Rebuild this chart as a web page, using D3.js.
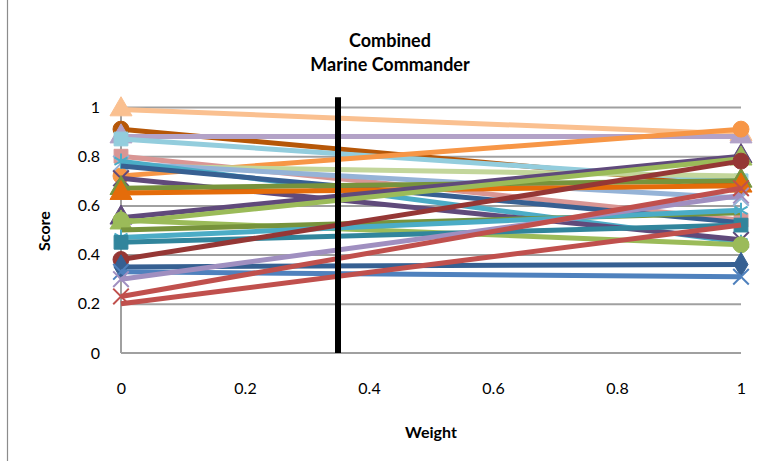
<!DOCTYPE html>
<html>
<head>
<meta charset="utf-8">
<script src="https://cdn.jsdelivr.net/npm/d3@7"></script>
<style>
  html, body { margin: 0; padding: 0; background: #fff; }
  svg { display: block; font-family: Lato, "Open Sans", sans-serif; }
</style>
</head>
<body>
<svg id="chart" width="759" height="461"></svg>
<script>
// Weight axis: each option is scored at weight 0 and weight 1
const weights = [0, 1];
const startScores = [0.99, 0.91, 0.88, 0.87, 0.80, 0.72, 0.76, 0.77, 0.78, 0.76, 0.71, 0.67, 0.65,
                     0.55, 0.53, 0.54, 0.50, 0.47, 0.45, 0.38, 0.35, 0.33, 0.30, 0.23, 0.20];
const endScores   = [0.89, 0.68, 0.88, 0.70, 0.54, 0.91, 0.72, 0.63, 0.45, 0.53, 0.46, 0.70, 0.68,
                     0.80, 0.79, 0.44, 0.57, 0.58, 0.52, 0.78, 0.36, 0.31, 0.64, 0.67, 0.52];
const seriesColors = ["#FAC090", "#B65708", "#B3A2C7", "#93CDDD", "#D99694", "#F79646", "#C3D69B",
                      "#95B3D7", "#4BACC6", "#376092", "#604A7B", "#77933C", "#E46C0A",
                      "#604A7B", "#9BBB59", "#9BBB59", "#77933C", "#4BACC6", "#31859C", "#953735",
                      "#366092", "#4F81BD", "#A08FC0", "#C0504D", "#C0504D"];
const seriesMarkers = ["triangle", "circle", "triangle", "square", "square", "circle", "none",
                       "times", "asterisk", "none", "times", "triangle", "triangle",
                       "triangle", "triangle", "circle", "none", "asterisk", "square", "circle",
                       "diamond", "times", "times", "times", "none"];
const xTicks = [0, 0.2, 0.4, 0.6, 0.8, 1];
const yTicks = [0, 0.2, 0.4, 0.6, 0.8, 1];
const cutoffWeight = 0.35;
const titleLines = ["Combined", "Marine Commander"];

const svg = d3.select("#chart");
const x = d3.scaleLinear().domain([0, 1]).range([121, 741]);
const y = d3.scaleLinear().domain([0, 1]).range([353, 107]);

// outer chart frame (left edge)
svg.append("line").attr("x1", 7.5).attr("x2", 7.5).attr("y1", 0).attr("y2", 461)
  .attr("stroke", "#8c8c8c").attr("stroke-width", 1.2);

// horizontal gridlines
svg.append("g").attr("transform", `translate(${x(0)},0)`)
  .call(d3.axisLeft(y).tickValues(yTicks.slice(1)).tickSize(-(x(1) - x(0))).tickFormat(""))
  .call(g => g.select(".domain").remove())
  .call(g => g.selectAll("line").attr("stroke", "#a0a0a0").attr("stroke-width", 2));

// axis lines
svg.append("line").attr("x1", x(0)).attr("x2", x(1)).attr("y1", y(0)).attr("y2", y(0))
  .attr("stroke", "#a0a0a0").attr("stroke-width", 2);
svg.append("line").attr("x1", x(0)).attr("x2", x(0)).attr("y1", y(0)).attr("y2", y(1))
  .attr("stroke", "#a0a0a0").attr("stroke-width", 2);

// tick labels
const yAxis = svg.append("g").attr("transform", `translate(${x(0) - 18},0)`)
  .call(d3.axisLeft(y).tickValues(yTicks).tickSize(0).tickFormat(d3.format("")));
yAxis.select(".domain").remove();
yAxis.selectAll("text").attr("font-size", 16).attr("fill", "#000")
  .attr("font-family", "Lato, 'Open Sans', sans-serif").attr("dy", "0.32em");

const xAxis = svg.append("g").attr("transform", `translate(0,${y(0) + 27})`)
  .call(d3.axisBottom(x).tickValues(xTicks).tickSize(0).tickFormat(d3.format("")));
xAxis.select(".domain").remove();
xAxis.selectAll("text").attr("font-size", 16).attr("fill", "#000")
  .attr("font-family", "Lato, 'Open Sans', sans-serif");

// series lines
const series = startScores.map((s, i) => ({
  values: [s, endScores[i]],
  color: seriesColors[i],
  marker: seriesMarkers[i]
}));

const line = d3.line().x((d, j) => x(weights[j])).y(d => y(d));
const symbolTypes = {
  triangle: d3.symbolTriangle, circle: d3.symbolCircle, square: d3.symbolSquare,
  diamond: d3.symbolDiamond, times: d3.symbolTimes, asterisk: d3.symbolAsterisk
};
const strokeMarkers = new Set(["times", "asterisk"]);
const markerSizes = { triangle: 210, circle: 200, square: 190, diamond: 170, times: 160, asterisk: 160 };

const gSeries = svg.append("g");
series.forEach(s => {
  gSeries.append("path").attr("d", line(s.values))
    .attr("fill", "none").attr("stroke", s.color).attr("stroke-width", 5);
  if (s.marker === "none") return;
  const sym = d3.symbol().type(symbolTypes[s.marker]).size(markerSizes[s.marker]);
  s.values.forEach((v, j) => {
    const m = gSeries.append("path").attr("d", sym())
      .attr("transform", `translate(${x(weights[j])},${y(v)})`);
    if (strokeMarkers.has(s.marker)) {
      m.attr("fill", "none").attr("stroke", s.color).attr("stroke-width", 2);
    } else {
      m.attr("fill", s.color).attr("stroke", s.color).attr("stroke-width", 1);
    }
  });
});

// cutoff weight marker
svg.append("line")
  .attr("x1", x(cutoffWeight)).attr("x2", x(cutoffWeight))
  .attr("y1", y(1.04)).attr("y2", y(0))
  .attr("stroke", "#000").attr("stroke-width", 6);

// title
svg.append("text").attr("x", 390).attr("y", 47).attr("text-anchor", "middle")
  .attr("font-size", 18).attr("font-weight", "bold")
  .selectAll("tspan").data(titleLines).join("tspan")
  .attr("x", 390).attr("dy", (d, i) => i === 0 ? 0 : 24).text(d => d);

// axis titles
svg.append("text").attr("x", 431).attr("y", 438).attr("text-anchor", "middle")
  .attr("font-size", 16).attr("font-weight", "bold").text("Weight");
svg.append("text").attr("transform", "translate(50,231) rotate(-90)").attr("text-anchor", "middle")
  .attr("font-size", 16).attr("font-weight", "bold").text("Score");
</script>
</body>
</html>
